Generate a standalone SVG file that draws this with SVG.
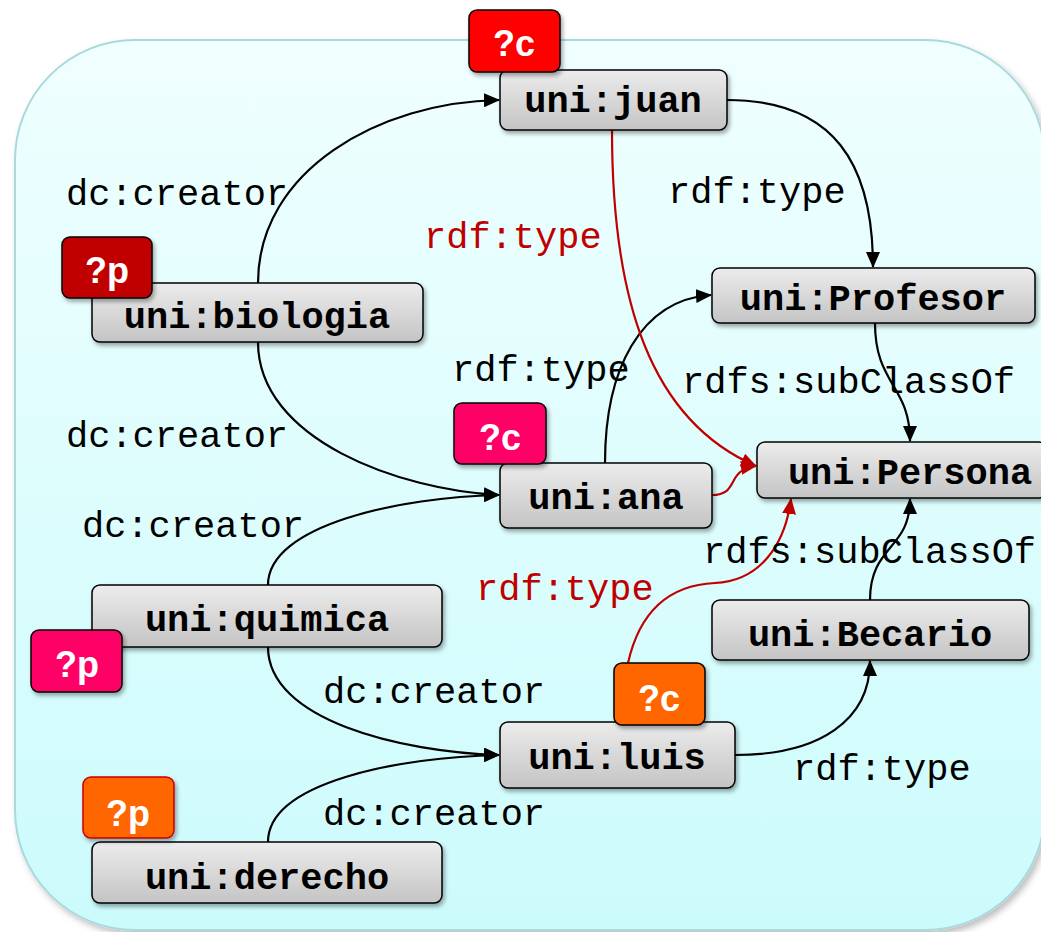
<svg xmlns="http://www.w3.org/2000/svg" width="1041" height="932" viewBox="0 0 1041 932">
  <defs>
    <linearGradient id="bg" x1="0" y1="0" x2="0" y2="1">
      <stop offset="0" stop-color="#f0ffff"/>
      <stop offset="1" stop-color="#ccfbfc"/>
    </linearGradient>
    <linearGradient id="box" x1="0" y1="0" x2="0" y2="1">
      <stop offset="0" stop-color="#ececec"/>
      <stop offset="1" stop-color="#c4c4c4"/>
    </linearGradient>
    <filter id="shadow" x="-10%" y="-10%" width="125%" height="140%">
      <feDropShadow dx="2" dy="3" stdDeviation="2" flood-color="#000" flood-opacity="0.35"/>
    </filter>
    <filter id="bgshadow" x="-5%" y="-5%" width="110%" height="110%">
      <feDropShadow dx="3" dy="4" stdDeviation="3" flood-color="#000" flood-opacity="0.25"/>
    </filter>
    <marker id="arrow" viewBox="0 0 16 14" refX="15" refY="7" markerWidth="16" markerHeight="14" markerUnits="userSpaceOnUse" orient="auto">
      <path d="M0,0 L16,7 L0,14 z" fill="#000"/>
    </marker>
    <marker id="arrowRed" viewBox="0 0 16 14" refX="15" refY="7" markerWidth="16" markerHeight="14" markerUnits="userSpaceOnUse" orient="auto">
      <path d="M0,0 L16,7 L0,14 z" fill="#c00000"/>
    </marker>
    <style>
      .node rect.box { fill: url(#box); stroke: #000; stroke-width: 1.5; filter: url(#shadow); }
      .node text.lbl { font-family: "Liberation Mono", "Courier New", monospace; font-weight: bold; font-size: 37px; fill: #000; text-anchor: middle; }
      .badge rect { stroke: #000; stroke-width: 1.5; filter: url(#shadow); }
      .badge text { font-family: "Liberation Sans", Arial, sans-serif; font-weight: bold; font-size: 36px; fill: #fff; text-anchor: middle; }
      .edge { fill: none; stroke: #000; stroke-width: 2.2; marker-end: url(#arrow); }
      .edge.red { stroke: #c00000; marker-end: url(#arrowRed); }
      .elbl { font-family: "Liberation Mono", "Courier New", monospace; font-size: 37px; fill: #000; }
      .elbl.red { fill: #c00000; }
    </style>
  </defs>

  <!-- background panel -->
  <rect x="15" y="40" width="1030" height="890" rx="120" ry="120" fill="url(#bg)" stroke="#a9d9dd" stroke-width="2" filter="url(#bgshadow)"/>

  <!-- connectors and their labels -->
  <g id="connectors">
    <path class="edge" d="M258,283 C258,170 380,102 499,100"/>
    <path class="edge" d="M258,342 C258,440 400,490 499,495"/>
    <path class="edge" d="M268,585 C268,525 400,497 499,495"/>
    <path class="edge" d="M268,647 C268,720 400,752 499,755"/>
    <path class="edge" d="M268,842 C268,782 400,757 499,755"/>
    <path class="edge" d="M727,100 C835,100 873,165 873,267"/>
    <path class="edge" d="M605,463 C605,370 640,300 711,295"/>
    <path class="edge" d="M875,323 C875,385 910,385 910,441"/>
    <path class="edge" d="M870,600 C870,545 910,550 910,499"/>
    <path class="edge" d="M735,755 C820,755 870,720 870,661"/>
    <path class="edge red" d="M612,130 C612,300 650,420 756,466"/>
    <path class="edge red" d="M712,495 C740,495 725,470 756,466"/>
    <path class="edge red" d="M628,663 C640,610 670,585 715,583 C760,581 785,545 791,499"/>

    <text class="elbl" x="66" y="205">dc:creator</text>
    <text class="elbl red" x="424" y="248">rdf:type</text>
    <text class="elbl" x="668" y="203">rdf:type</text>
    <text class="elbl" x="452" y="381">rdf:type</text>
    <text class="elbl" x="682" y="393">rdfs:subClassOf</text>
    <text class="elbl" x="66" y="447">dc:creator</text>
    <text class="elbl" x="82" y="537">dc:creator</text>
    <text class="elbl" x="703" y="563">rdfs:subClassOf</text>
    <text class="elbl red" x="476" y="600">rdf:type</text>
    <text class="elbl" x="323" y="703">dc:creator</text>
    <text class="elbl" x="793" y="780">rdf:type</text>
    <text class="elbl" x="323" y="825">dc:creator</text>
  </g>

  <g id="node-juan" class="node">
    <rect class="box" x="500" y="70" width="227" height="60" rx="8"/>
    <text class="lbl" x="613" y="112">uni:juan</text>
    <g class="badge"><rect x="469" y="10" width="91" height="62" rx="8" fill="#ff0000"/><text x="514" y="56">?c</text></g>
  </g>

  <g id="node-biologia" class="node">
    <rect class="box" x="92" y="283" width="331" height="59" rx="8"/>
    <text class="lbl" x="257" y="328">uni:biologia</text>
    <g class="badge"><rect x="62" y="237" width="90" height="61" rx="8" fill="#c00000"/><text x="107" y="283">?p</text></g>
  </g>

  <g id="node-profesor" class="node">
    <rect class="box" x="712" y="268" width="323" height="55" rx="8"/>
    <text class="lbl" x="873" y="310">uni:Profesor</text>
  </g>

  <g id="node-persona" class="node">
    <rect class="box" x="757" y="442" width="290" height="56" rx="8"/>
    <text class="lbl" x="910" y="484">uni:Persona</text>
  </g>

  <g id="node-ana" class="node">
    <rect class="box" x="500" y="463" width="212" height="65" rx="8"/>
    <text class="lbl" x="606" y="509">uni:ana</text>
    <g class="badge"><rect x="454" y="403" width="92" height="61" rx="8" fill="#ff0066"/><text x="500" y="450">?c</text></g>
  </g>

  <g id="node-quimica" class="node">
    <rect class="box" x="92" y="585" width="350" height="62" rx="8"/>
    <text class="lbl" x="267" y="631">uni:quimica</text>
    <g class="badge"><rect x="31" y="630" width="91" height="62" rx="8" fill="#ff0066"/><text x="77" y="677">?p</text></g>
  </g>

  <g id="node-becario" class="node">
    <rect class="box" x="712" y="600" width="317" height="60" rx="8"/>
    <text class="lbl" x="870" y="646">uni:Becario</text>
  </g>

  <g id="node-luis" class="node">
    <rect class="box" x="500" y="722" width="235" height="66" rx="8"/>
    <text class="lbl" x="617" y="769">uni:luis</text>
    <g class="badge"><rect x="614" y="663" width="91" height="62" rx="8" fill="#ff6600"/><text x="659" y="711">?c</text></g>
  </g>

  <g id="node-derecho" class="node">
    <rect class="box" x="92" y="842" width="350" height="61" rx="8"/>
    <text class="lbl" x="267" y="889">uni:derecho</text>
    <g class="badge"><rect x="83" y="777" width="91" height="61" rx="8" fill="#ff6600" style="stroke:#cc0000"/><text x="128" y="826">?p</text></g>
  </g>
</svg>
